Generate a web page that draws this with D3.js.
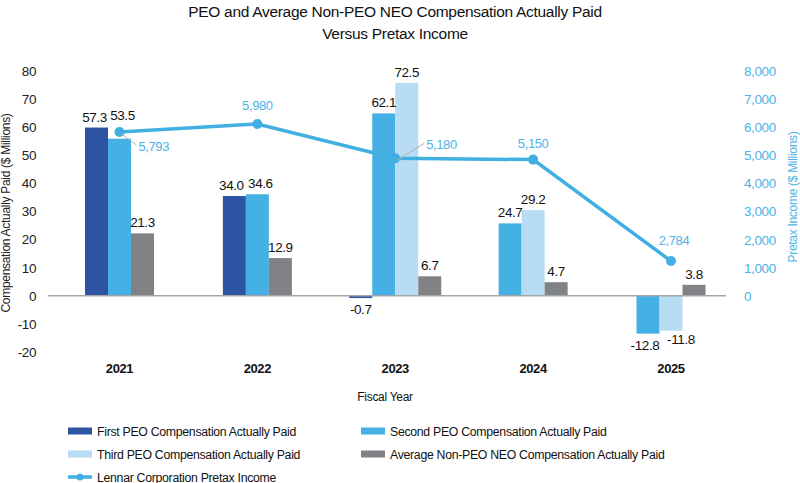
<!DOCTYPE html>
<html>
<head>
<meta charset="utf-8">
<script src="https://cdn.jsdelivr.net/npm/d3@7"></script>
<style>
  body { margin: 0; background: #fff; }
  svg { display: block; }
  .num { font-family: "Liberation Sans", Arial, sans-serif; font-size: 13px; letter-spacing: -0.4px; }
  .txt { font-family: "Liberation Sans", Arial, sans-serif; letter-spacing: -0.3px; }
</style>
</head>
<body>
<script>
// data
var years = ['2021', '2022', '2023', '2024', '2025'];
var firstPeo  = [57.3, 34.0, -0.7, null, null];
var secondPeo = [53.5, 34.6, 62.1, 24.7, -12.8];
var thirdPeo  = [null, null, 72.5, 29.2, -11.8];
var avgNeo    = [21.3, 12.9, 6.7, 4.7, 3.8];
var pretax    = [5793, 5980, 5180, 5150, 2784];
var leftTicks  = [-20, -10, 0, 10, 20, 30, 40, 50, 60, 70, 80];
var rightTicks = [0, 1000, 2000, 3000, 4000, 5000, 6000, 7000, 8000];

var series = [
  { name: 'First PEO Compensation Actually Paid', values: firstPeo, color: '#2c54a3' },
  { name: 'Second PEO Compensation Actually Paid', values: secondPeo, color: '#45b0e3' },
  { name: 'Third PEO Compensation Actually Paid', values: thirdPeo, color: '#b7dcf4' },
  { name: 'Average Non-PEO NEO Compensation Actually Paid', values: avgNeo, color: '#808285' }
];
var lineColor = '#42afe3';

var W = 800, H = 483;
var svg = d3.select('body').append('svg').attr('width', W).attr('height', H);

// formats with a plain hyphen for negatives
var fmt1 = function(v){ return d3.format('.1f')(v).replace('\u2212', '-'); };
var fmtInt = function(v){ return String(v); };
var fmtComma = function(v){ return d3.format(',')(v).replace('\u2212', '-'); };

// scales
var x = d3.scalePoint().domain(years).range([119.5, 671]);
var yAxisL = d3.scaleLinear().domain([-20, 80]).range([352, 71]);
var yBar = d3.scaleLinear().domain([-20, 80]).range([354.8, 60.8]);
var yAxisR = d3.scaleLinear().domain([0, 8000]).range([296, 71]);
var yLine = d3.scaleLinear().domain([0, 8000]).range([380.4, 37.4]);
var barW = 23;

// title
svg.append('g').attr('class', 'txt')
  .selectAll('text')
  .data(['PEO and Average Non-PEO NEO Compensation Actually Paid', 'Versus Pretax Income'])
  .enter().append('text')
    .attr('x', 395)
    .attr('y', function(d, i){ return 17 + i * 22; })
    .attr('text-anchor', 'middle')
    .attr('font-size', 15.5)
    .attr('fill', '#111')
    .text(function(d){ return d; });

// left axis
var axL = svg.append('g')
  .attr('class', 'num')
  .attr('transform', 'translate(36,0)')
  .call(d3.axisLeft(yAxisL).tickValues(leftTicks).tickSize(0).tickPadding(0).tickFormat(fmtInt));
axL.select('.domain').remove();
axL.selectAll('text').attr('fill', '#222').attr('font-size', 13.5);

// right axis
var axR = svg.append('g')
  .attr('class', 'num')
  .attr('transform', 'translate(744,0)')
  .call(d3.axisRight(yAxisR).tickValues(rightTicks).tickSize(0).tickPadding(0).tickFormat(fmtComma));
axR.select('.domain').remove();
axR.selectAll('text').attr('fill', '#4db3e6').attr('font-size', 13.5);

// axis titles
svg.append('text').attr('class', 'txt')
  .attr('transform', 'translate(10,213) rotate(-90)')
  .attr('text-anchor', 'middle').attr('font-size', 12).attr('fill', '#222')
  .text('Compensation Actually Paid ($ Millions)');
svg.append('text').attr('class', 'txt')
  .attr('transform', 'translate(797,197) rotate(-90)')
  .attr('text-anchor', 'middle').attr('font-size', 12).attr('fill', '#4db3e6')
  .text('Pretax Income ($ Millions)');

// bars
var bars = [];
years.forEach(function(yr, i){
  var present = series.filter(function(s){ return s.values[i] != null; });
  present.forEach(function(s, j){
    bars.push({ year: yr, name: s.name, value: s.values[i], color: s.color,
      off: (j - (present.length - 1) / 2) * barW });
  });
});

svg.append('g').selectAll('rect')
  .data(bars)
  .enter().append('rect')
    .attr('x', function(d){ return x(d.year) + d.off - barW / 2; })
    .attr('width', barW)
    .attr('y', function(d){ return Math.min(yBar(d.value), yBar(0)); })
    .attr('height', function(d){ return Math.max(Math.abs(yBar(d.value) - yBar(0)), 2); })
    .attr('fill', function(d){ return d.color; });

// zero line
svg.append('line')
  .attr('x1', 48).attr('x2', 726)
  .attr('y1', yAxisL(0)).attr('y2', yAxisL(0))
  .attr('stroke', '#a5a5a5').attr('stroke-width', 1.5);

// bar labels (small nudges where labels collide)
var nudge = {
  '2021|57.3': [-2, 0], '2021|53.5': [3, -13],
  '2022|34': [-3, 0], '2022|34.6': [3, 0],
  '2025|-11.8': [10, -3], '2025|-12.8': [-3, 0]
};
svg.append('g').attr('class', 'num')
  .selectAll('text')
  .data(bars)
  .enter().append('text')
    .attr('x', function(d){
      var n = nudge[d.year + '|' + d.value] || [0, 0];
      return x(d.year) + d.off + n[0];
    })
    .attr('y', function(d){
      var n = nudge[d.year + '|' + d.value] || [0, 0];
      return (d.value >= 0 ? yBar(d.value) - 6 : yBar(d.value) + 16) + n[1];
    })
    .attr('text-anchor', 'middle')
    .attr('font-size', 13.5)
    .attr('fill', '#111')
    .text(function(d){ return fmt1(d.value); });

// pretax line
var pts = years.map(function(yr, i){ return { year: yr, value: pretax[i] }; });
var line = d3.line()
  .x(function(d){ return x(d.year); })
  .y(function(d){ return yLine(d.value); });

svg.append('path')
  .datum(pts)
  .attr('d', line)
  .attr('fill', 'none')
  .attr('stroke', lineColor)
  .attr('stroke-width', 3.5);

svg.append('g').selectAll('circle')
  .data(pts)
  .enter().append('circle')
    .attr('cx', function(d){ return x(d.year); })
    .attr('cy', function(d){ return yLine(d.value); })
    .attr('r', 5)
    .attr('fill', lineColor);

// line labels: [dx, dy, anchor, leader]
var lineLab = {
  '2021': [19, 19, 'start', true],
  '2022': [0, -14, 'middle', false],
  '2023': [31, -9, 'start', true],
  '2024': [0, -12, 'middle', false],
  '2025': [3, -16, 'middle', false]
};
var lg = svg.append('g');
pts.forEach(function(d){
  var o = lineLab[d.year];
  var px = x(d.year), py = yLine(d.value);
  if (o[3]) {
    lg.append('line')
      .attr('x1', px + 2).attr('y1', py + 2)
      .attr('x2', px + o[0] - 2).attr('y2', py + o[1] - 6)
      .attr('stroke', '#b0b0b0').attr('stroke-width', 1);
  }
  lg.append('text').attr('class', 'num')
    .attr('x', px + o[0]).attr('y', py + o[1])
    .attr('text-anchor', o[2])
    .attr('font-size', 13.5)
    .attr('fill', '#4db3e6')
    .text(fmtComma(d.value));
});

// x labels
svg.append('g').attr('class', 'num')
  .selectAll('text')
  .data(years)
  .enter().append('text')
    .attr('x', function(d){ return x(d); })
    .attr('y', 373)
    .attr('text-anchor', 'middle')
    .attr('font-size', 13)
    .attr('font-weight', 'bold')
    .attr('fill', '#111')
    .text(function(d){ return d; });

svg.append('text').attr('class', 'txt')
  .attr('x', 385).attr('y', 401)
  .attr('text-anchor', 'middle').attr('font-size', 12).attr('fill', '#111')
  .text('Fiscal Year');

// legend
var legendItems = series.map(function(s, i){
  return { name: s.name, color: s.color, type: 'bar', col: i % 2, row: Math.floor(i / 2) };
});
legendItems.push({ name: 'Lennar Corporation Pretax Income', color: lineColor, type: 'line', col: 0, row: 2 });

var leg = svg.append('g').attr('class', 'legend')
  .selectAll('g')
  .data(legendItems)
  .enter().append('g')
    .attr('transform', function(d){
      return 'translate(' + (d.col ? 361 : 68) + ',' + (431 + d.row * 23) + ')';
    });

leg.filter(function(d){ return d.type === 'bar'; })
  .append('rect')
    .attr('x', 0).attr('y', -3.5).attr('width', 24).attr('height', 7)
    .attr('fill', function(d){ return d.color; });

var legLine = leg.filter(function(d){ return d.type === 'line'; });
legLine.append('line')
  .attr('x1', 0).attr('x2', 24).attr('y1', 0).attr('y2', 0)
  .attr('stroke', lineColor).attr('stroke-width', 3.5);
legLine.append('circle')
  .attr('cx', 12).attr('cy', 0).attr('r', 3.5).attr('fill', lineColor);

leg.append('text').attr('class', 'txt')
  .attr('x', 29).attr('y', 4.5)
  .attr('font-size', 12.3)
  .attr('letter-spacing', '-0.6px')
  .attr('fill', '#111')
  .text(function(d){ return d.name; });
</script>
</body>
</html>
